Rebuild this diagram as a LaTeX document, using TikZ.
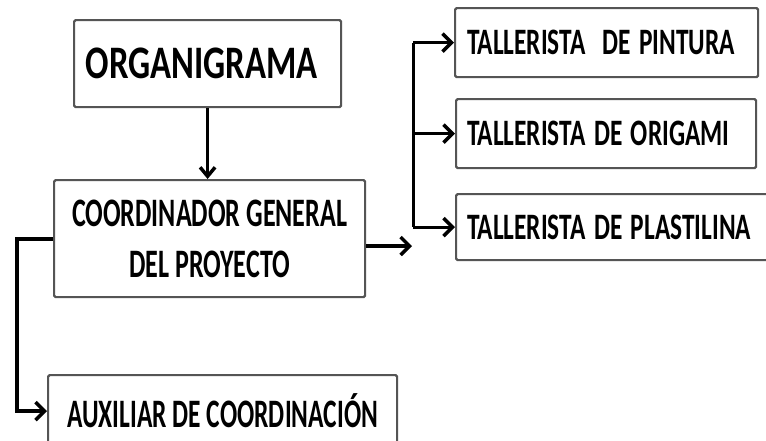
\documentclass[tikz,border=0pt]{standalone}
\usepackage{fontspec}
\usepackage{graphicx}
\setmainfont{Carlito}
\usetikzlibrary{arrows.meta}
\newcommand{\sqz}[2]{\scalebox{#1}[1]{#2}}
\definecolor{boxgray}{HTML}{555555}
\tikzset{
  box/.style={draw=boxgray, line width=2.2pt, rounded corners=1.5pt, inner sep=0pt, anchor=north west},
  conn/.style={line width=3pt, -{Straight Barb[length=9pt,width=18pt,line width=3.5pt]}},
  bigtxt/.style={font=\fontsize{46.6}{50}\selectfont\bfseries},
  midtxt/.style={font=\fontsize{40.4}{51}\selectfont\bfseries},
  smltxt/.style={font=\fontsize{37.3}{40}\selectfont\bfseries},
}
\begin{document}
\begin{tikzpicture}[x=1pt,y=-1pt]
\clip (0,0) rectangle (766,440);
\fill[white] (0,0) rectangle (766,440);
\node[box, bigtxt, minimum width=267pt, minimum height=87pt] (org) at (73,19) {\sqz{0.745}{ORGANIGRAMA}\hspace*{12pt}};
\node[box, midtxt, minimum width=311pt, minimum height=117pt, align=center] (coord) at (53,179)
  {\sqz{0.645}{COORDINADOR GENERAL}\\\sqz{0.645}{DEL PROYECTO}};
\node[box, smltxt, text width=279pt, inner xsep=12pt, minimum height=69pt, align=left] (pin) at (454,7)
  {\sqz{0.68}{TALLERISTA\ \ DE PINTURA}};
\node[box, smltxt, text width=278pt, inner xsep=11pt, minimum height=69pt, align=left] (ori) at (455,98)
  {\sqz{0.68}{TALLERISTA DE ORIGAMI}};
\node[box, smltxt, text width=303pt, inner xsep=11pt, minimum height=66pt, align=left] (pla) at (455,193)
  {\sqz{0.68}{TALLERISTA DE PLASTILINA}};
\node[box, midtxt, minimum width=349pt, minimum height=72pt] (aux) at (47,374)
  {\sqz{0.63}{AUXILIAR DE COORDINACIÓN}};
% connectors
\draw[line width=2.5pt, -{Straight Barb[length=9pt,width=15pt,line width=3.5pt]}]
  (org.south) -- (org.south |- coord.north);
\coordinate (c1) at (412,246);
\draw[conn, line width=4.5pt] (coord.east |- c1) -- (c1);
\coordinate (bx) at (413,0);
\draw[line width=3pt] (pin.west -| bx) -- (pla.west -| bx);
\draw[conn] (pin.west -| bx) -- (pin.west);
\draw[conn] (ori.west -| bx) -- (ori.west);
\draw[conn] (pla.west -| bx) -- (pla.west);
\coordinate (lx) at (17,0);
\draw[conn, line width=4pt] (coord.west) -- (coord.west -| lx) |- (aux.west);
\end{tikzpicture}
\end{document}
